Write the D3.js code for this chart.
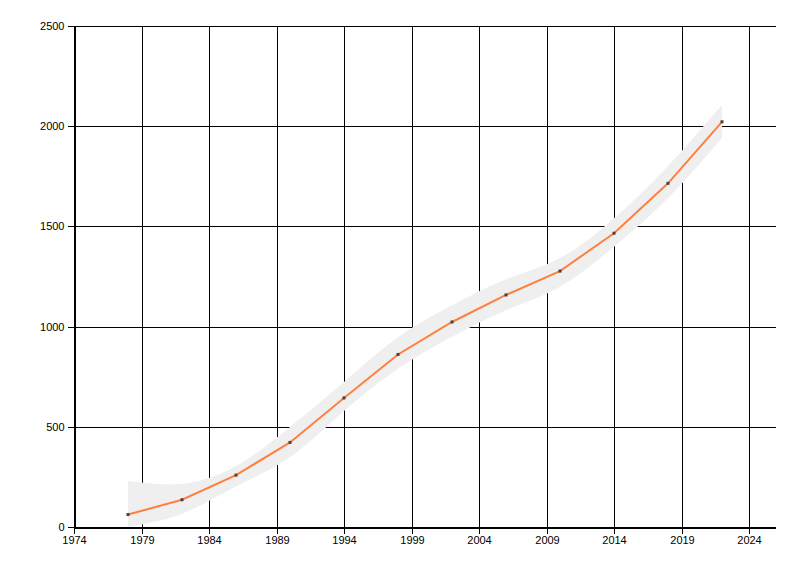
<!DOCTYPE html>
<html>
<head>
<meta charset="utf-8">
<script src="https://cdn.jsdelivr.net/npm/d3@7"></script>
<style>
  body { margin: 0; background: #fff; }
  svg { display: block; }
  text { font-family: "Liberation Sans", Arial, sans-serif; font-size: 11px; fill: #000; }
</style>
</head>
<body>
<svg id="chart" width="800" height="576"></svg>
<script>
const years  = [1978, 1982, 1986, 1990, 1994, 1998, 2002, 2006, 2010, 2014, 2018, 2022];
const values = [62, 136, 259, 422, 644, 861, 1023, 1158, 1277, 1466, 1715, 2022];
const upper  = [229, 216, 305, 499, 724, 947, 1106, 1236, 1342, 1541, 1802, 2107];
const lower  = [0, 66, 202, 349, 579, 790, 949, 1082, 1199, 1399, 1641, 1941];
const xTicks = [1974, 1979, 1984, 1989, 1994, 1999, 2004, 2009, 2014, 2019, 2024];
const yTicks = [0, 500, 1000, 1500, 2000, 2500];

const svg = d3.select("#chart");
const margin = {left: 74, right: 24, top: 26, bottom: 49};
const W = 800, H = 576;
const x = d3.scaleLinear().domain([1974, 2026]).range([margin.left, W - margin.right]);
const y = d3.scaleLinear().domain([0, 2500]).range([H - margin.bottom, margin.top]);

const px = v => Math.round(v) + 0.5;

// grid
const grid = svg.append("g").attr("stroke", "#000").attr("stroke-width", 1).attr("shape-rendering", "crispEdges");
grid.selectAll("line.h").data(yTicks).join("line")
  .attr("x1", x(1974)).attr("x2", x(2026))
  .attr("y1", d => px(y(d))).attr("y2", d => px(y(d)));
grid.selectAll("line.v").data(xTicks).join("line")
  .attr("x1", d => px(x(d))).attr("x2", d => px(x(d)))
  .attr("y1", y(2500)).attr("y2", y(0));

// band
const pts = years.map((yr, i) => ({yr, v: values[i], lo: lower[i], hi: upper[i]}));
const area = d3.area().x(d => x(d.yr)).y0(d => y(d.lo)).y1(d => y(d.hi)).curve(d3.curveNatural);
svg.append("path").datum(pts).attr("d", area).attr("fill", "#efefef");

// line
const line = d3.line().x(d => x(d.yr)).y(d => y(d.v));
svg.append("path").datum(pts).attr("d", line)
  .attr("fill", "none").attr("stroke", "#ff7f3f").attr("stroke-width", 2);

// points
svg.append("g").selectAll("rect").data(pts).join("rect")
  .attr("x", d => x(d.yr) - 1.5).attr("y", d => y(d.v) - 1.5)
  .attr("width", 3).attr("height", 3).attr("fill", "#444");

// axes
const xAxis = d3.axisBottom(x).tickValues(xTicks).tickFormat(d3.format("d")).tickSize(6).tickPadding(3);
const gx = svg.append("g").attr("transform", `translate(0,${px(y(0))})`).call(xAxis);
const yAxis = d3.axisLeft(y).tickValues(yTicks).tickFormat(d3.format("d")).tickSize(7).tickPadding(3);
const gy = svg.append("g").attr("transform", `translate(${px(x(1974))},0)`).call(yAxis);
[gx, gy].forEach(g => {
  g.select(".domain").attr("stroke", "#000").attr("shape-rendering", "crispEdges");
  g.selectAll(".tick line").attr("stroke", "#000").attr("shape-rendering", "crispEdges");
  g.selectAll("text").attr("fill", "#000").style("font-size", "11px").style("font-family", "'Liberation Sans', Arial, sans-serif");
});
gx.select(".domain").attr("d", `M${x(1974)},0.5H${x(2026)}`);
gy.select(".domain").attr("d", `M0.5,${y(2500)}V${y(0)}`);
gx.selectAll(".tick").attr("transform", d => `translate(${px(x(d))},0)`);
gy.selectAll(".tick").attr("transform", d => `translate(0,${px(y(d))})`);
</script>
</body>
</html>
